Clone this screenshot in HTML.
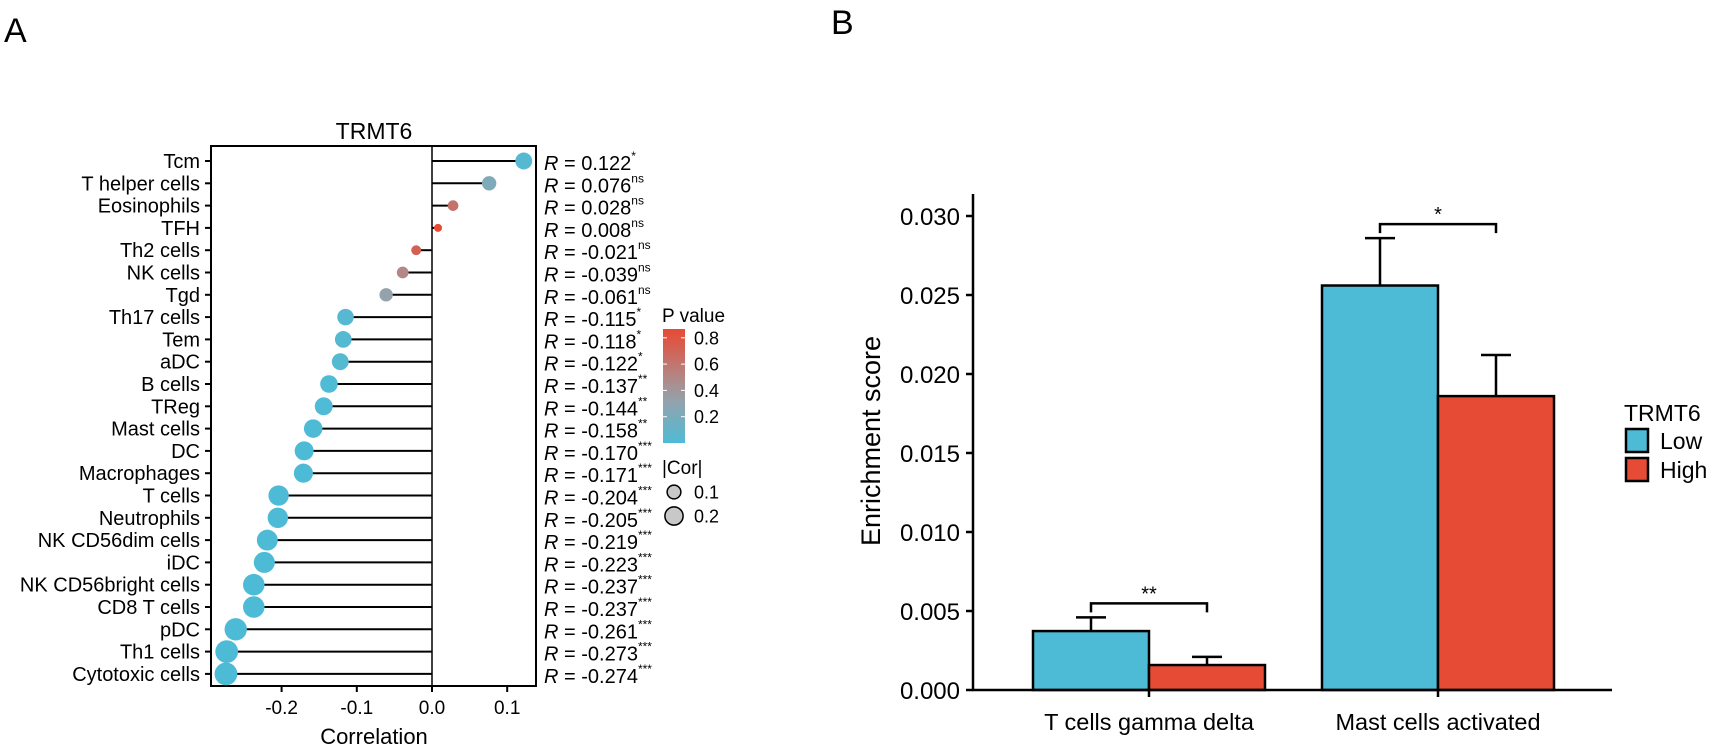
<!DOCTYPE html>
<html><head><meta charset="utf-8"><style>
body{margin:0;background:#fff}
svg{display:block;font-family:"Liberation Sans",Arial,sans-serif}
</style></head><body>
<svg id="fig" width="1713" height="751" viewBox="0 0 1713 751">
<text x="4" y="42" font-size="34">A</text>
<text x="831" y="34" font-size="34">B</text>
<g id="pa"></g>
<g id="pb"></g>
</svg>
<script>
const cells=["Tcm","T helper cells","Eosinophils","TFH","Th2 cells","NK cells","Tgd","Th17 cells","Tem","aDC","B cells","TReg","Mast cells","DC","Macrophages","T cells","Neutrophils","NK CD56dim cells","iDC","NK CD56bright cells","CD8 T cells","pDC","Th1 cells","Cytotoxic cells"];
const corr=[0.122,0.076,0.028,0.008,-0.021,-0.039,-0.061,-0.115,-0.118,-0.122,-0.137,-0.144,-0.158,-0.170,-0.171,-0.204,-0.205,-0.219,-0.223,-0.237,-0.237,-0.261,-0.273,-0.274];
const pvals=[0.04,0.22,0.62,0.86,0.72,0.5,0.32,0.04,0.03,0.03,0.004,0.003,0.002,0.0005,0.0005,0.0001,0.0001,0.0001,0.0001,0.0001,0.0001,0.0001,0.0001,0.0001];
const sig=["*","ns","ns","ns","ns","ns","ns","*","*","*","**","**","**","***","***","***","***","***","***","***","***","***","***","***"];
const xTicks=[-0.2,-0.1,0.0,0.1];
const groups=["T cells gamma delta","Mast cells activated"];
const lowVals=[0.00373,0.0256];
const highVals=[0.00158,0.0186];
const lowErr=[0.0046,0.0286];
const highErr=[0.0021,0.0212];
const groupSig=["**","*"];
const yTicks=[0,0.005,0.010,0.015,0.020,0.025,0.030];

const NS="http://www.w3.org/2000/svg";
function mk(p,t,a,txt){const e=document.createElementNS(NS,t);for(const k in a)e.setAttribute(k,a[k]);if(txt!==undefined)e.textContent=txt;p.appendChild(e);return e;}
function lerp(a,b,t){return a.map((v,i)=>Math.round(v+(b[i]-v)*t));}
function pcol(p){const b=[78,187,214],g=[155,160,168],r=[230,75,53];let c;
 if(p<0.35)c=lerp(b,g,p/0.35);else c=lerp(g,r,Math.min(1,(p-0.35)/0.5));return `rgb(${c})`;}

// Panel A
const A=document.getElementById('pa');
const xA=v=>432+v*752; const yA=i=>161+i*22.3;
const rA=c=>2.5+17*Math.sqrt(Math.abs(c));
let t=mk(A,'text',{x:374,y:139,'font-size':23,'text-anchor':'middle'},'TRMT6');

let box=mk(A,'rect',{x:211,y:146,width:325,height:540,fill:'none',stroke:'#000','stroke-width':2});

let zl=mk(A,'line',{x1:xA(0),x2:xA(0),y1:146,y2:686,stroke:'#000','stroke-width':1.5});

cells.forEach((c,i)=>{
 const y=yA(i);
 const tk=mk(A,'line',{x1:205,x2:211,y1:y,y2:y,stroke:'#000','stroke-width':2});
 
 const lb=mk(A,'text',{x:200,y:y+7,'font-size':20,'text-anchor':'end'},c);
 
 const st=mk(A,'line',{x1:xA(0),x2:xA(corr[i]),y1:y,y2:y,stroke:'#000','stroke-width':2});
 
 const dt=mk(A,'circle',{cx:xA(corr[i]),cy:y,r:rA(corr[i]),fill:pcol(pvals[i])});
 
 const rt=mk(A,'text',{x:544,y:y+9,'font-size':20});
 
 mk(rt,'tspan',{'font-style':'italic'},'R');
 mk(rt,'tspan',{},' = '+corr[i].toFixed(3));
 mk(rt,'tspan',{dy:-10,'font-size':12},sig[i]);
});
xTicks.forEach(v=>{
 const tk=mk(A,'line',{x1:xA(v),x2:xA(v),y1:686,y2:692,stroke:'#000','stroke-width':2});
 
 const l=mk(A,'text',{x:xA(v),y:714,'font-size':19,'text-anchor':'middle'},v.toFixed(1));
 
});
t=mk(A,'text',{x:374,y:744,'font-size':22,'text-anchor':'middle'},'Correlation');

const defs=mk(A,'defs',{});const gr=mk(defs,'linearGradient',{id:'pg',x1:0,y1:1,x2:0,y2:0});
[0,0.15,0.3,0.45,0.6,0.75,0.87].forEach(p=>mk(gr,'stop',{offset:p/0.87,'stop-color':pcol(p)}));
t=mk(A,'text',{x:662,y:322,'font-size':19},'P value');

const cb=mk(A,'rect',{x:663,y:329,width:22,height:114,fill:'url(#pg)'});

[0.8,0.6,0.4,0.2].forEach(p=>{const y=443-p*131.5;
 mk(A,'line',{x1:663,x2:667,y1:y,y2:y,stroke:'#fff','stroke-width':1});
 mk(A,'line',{x1:681,x2:685,y1:y,y2:y,stroke:'#fff','stroke-width':1});
 const l=mk(A,'text',{x:694,y:y+6.5,'font-size':18},p.toFixed(1));
 });
t=mk(A,'text',{x:662,y:474,'font-size':19},'|Cor|');

[[0.1,492],[0.2,516]].forEach(([v,y])=>{
 const c=mk(A,'circle',{cx:674,cy:y,r:rA(v)-1,fill:'#c8c8c8',stroke:'#000','stroke-width':1.5});
 
 const l=mk(A,'text',{x:694,y:y+6.5,'font-size':18},v.toFixed(1));
 });

// Panel B
const B=document.getElementById('pb');
const yB=v=>690-v*15800; const cx=[1149,1438]; const bw=116;
yTicks.forEach(v=>{
 const tk=mk(B,'line',{x1:966,x2:973,y1:yB(v),y2:yB(v),stroke:'#000','stroke-width':2.5});
 
 const l=mk(B,'text',{x:960,y:yB(v)+9,'font-size':24,'text-anchor':'end'},v.toFixed(3));
 });
t=mk(B,'text',{x:0,y:0,'font-size':27,'text-anchor':'middle',transform:'translate(880,441) rotate(-90)'},'Enrichment score');

groups.forEach((g,i)=>{
 const c=cx[i];
 const eb1=mk(B,'path',{d:`M${c-bw/2} ${yB(lowVals[i])}V${yB(lowErr[i])}M${c-bw/2-15} ${yB(lowErr[i])}H${c-bw/2+15}`,stroke:'#000','stroke-width':2.5,fill:'none'});
 
 const eb2=mk(B,'path',{d:`M${c+bw/2} ${yB(highVals[i])}V${yB(highErr[i])}M${c+bw/2-15} ${yB(highErr[i])}H${c+bw/2+15}`,stroke:'#000','stroke-width':2.5,fill:'none'});
 
 const b1=mk(B,'rect',{x:c-bw,y:yB(lowVals[i]),width:bw,height:yB(0)-yB(lowVals[i]),fill:'#4dbbd5',stroke:'#000','stroke-width':2.5});
 
 const b2=mk(B,'rect',{x:c,y:yB(highVals[i]),width:bw,height:yB(0)-yB(highVals[i]),fill:'#e64b35',stroke:'#000','stroke-width':2.5});
 
 const by=yB(lowErr[i])-14;
 const br=mk(B,'path',{d:`M${c-bw/2} ${by+9}V${by}H${c+bw/2}V${by+9}`,stroke:'#000','stroke-width':2.5,fill:'none'});
 
 const s=mk(B,'text',{x:c,y:by-3,'font-size':20,'text-anchor':'middle'},groupSig[i]);
 
 const tk=mk(B,'line',{x1:c,x2:c,y1:690,y2:697,stroke:'#000','stroke-width':2.5});
 
 const l=mk(B,'text',{x:c,y:730,'font-size':23.5,'text-anchor':'middle'},g);
 
});
const ax=mk(B,'path',{d:'M973 194V690H1612',stroke:'#000','stroke-width':2.5,fill:'none'});

t=mk(B,'text',{x:1624,y:421,'font-size':23},'TRMT6');

[['Low','#4dbbd5',429],['High','#e64b35',458]].forEach(([n,c,y])=>{
 const r=mk(B,'rect',{x:1626,y:y,width:22,height:23,fill:c,stroke:'#000','stroke-width':2.5});
 
 const l=mk(B,'text',{x:1660,y:y+20,'font-size':23},n);
 });
</script>
</body></html>
